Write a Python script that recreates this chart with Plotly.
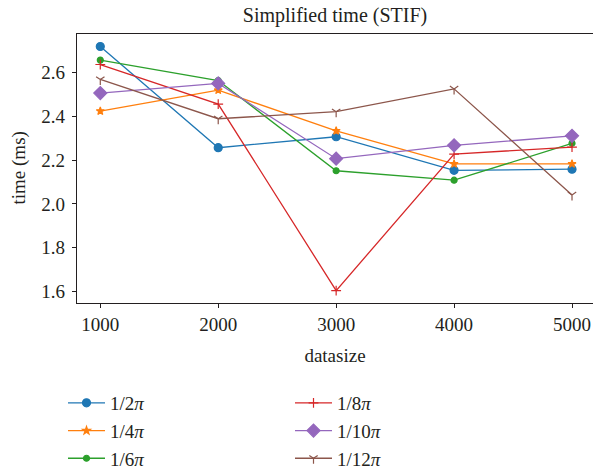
import plotly.graph_objects as go

datasize = [1000, 2000, 3000, 4000, 5000]

t_half = [2.717, 2.256, 2.306, 2.153, 2.158]
t_quarter = [2.423, 2.518, 2.333, 2.182, 2.182]
t_sixth = [2.655, 2.562, 2.151, 2.108, 2.276]
t_eighth = [2.635, 2.455, 1.605, 2.227, 2.259]
t_tenth = [2.505, 2.549, 2.206, 2.267, 2.310]
t_twelfth = [2.567, 2.388, 2.420, 2.524, 2.041]

series_names = ["1/2<i>π</i>", "1/4<i>π</i>", "1/6<i>π</i>", "1/8<i>π</i>", "1/10<i>π</i>", "1/12<i>π</i>"]
series_values = [t_half, t_quarter, t_sixth, t_eighth, t_tenth, t_twelfth]
colors = ["#1f77b4", "#ff7f0e", "#2ca02c", "#d62728", "#9467bd", "#8c564b"]
symbols = ["circle", "star", "circle", "cross-thin", "diamond", "y-down"]
sizes = [8, 6, 6, 7, 10, 7]
legends = ["legend", "legend", "legend", "legend2", "legend2", "legend2"]

FONT = "Liberation Serif"
INK = "#231f20"

fig = go.Figure()
for name, vals, c, sym, sz, lg in zip(series_names, series_values, colors, symbols, sizes, legends):
    fig.add_trace(go.Scatter(
        x=datasize, y=vals, name=name, mode="lines+markers",
        line=dict(color=c, width=1.3),
        marker=dict(symbol=sym, size=sz, color=c, line=dict(color=c, width=1.2)),
        legend=lg,
    ))

legend_common = dict(
    font=dict(family=FONT, size=19, color=INK),
    bgcolor="rgba(0,0,0,0)",
    xref="container", yref="container",
    xanchor="left", yanchor="top",
    orientation="v",
    itemwidth=37,
)

fig.update_layout(
    width=593, height=470,
    margin=dict(l=77, r=0, t=34, b=167, autoexpand=False),
    paper_bgcolor="white", plot_bgcolor="white",
    font=dict(family=FONT, size=19, color=INK),
    title=dict(text="Simplified time (STIF)", x=0.5, xref="paper", xanchor="center",
               y=1 - 15 / 470, yref="container", yanchor="middle",
               font=dict(family=FONT, size=20, color=INK)),
    showlegend=True,
    legend=dict(x=63 / 593, y=1 - 384 / 470, **legend_common),
    legend2=dict(x=290 / 593, y=1 - 384 / 470, **legend_common),
    xaxis=dict(
        range=[802.5, 5178], tickvals=datasize, ticktext=[str(d) for d in datasize],
        showgrid=False, zeroline=False, showline=True, linecolor=INK, linewidth=1.2,
        mirror=True, ticks="outside", ticklen=4, tickcolor=INK, tickangle=0,
        tickfont=dict(family=FONT, size=19, color=INK),
        title=dict(text="datasize", font=dict(family=FONT, size=19, color=INK), standoff=14),
    ),
    yaxis=dict(
        range=[1.5486, 2.774], tickvals=[1.6, 1.8, 2.0, 2.2, 2.4, 2.6],
        ticktext=["1.6", "1.8", "2.0", "2.2", "2.4", "2.6"],
        showgrid=False, zeroline=False, showline=True, linecolor=INK, linewidth=1.2,
        mirror=False, ticks="outside", ticklen=4, tickcolor=INK, ticklabelstandoff=3,
        tickfont=dict(family=FONT, size=19, color=INK),
    ),
    annotations=[dict(
        text="time (ms)", textangle=-90, showarrow=False,
        xref="paper", x=-(77 - 18) / 516, xanchor="center",
        yref="paper", y=0.5, yanchor="middle",
        font=dict(family=FONT, size=19, color=INK),
    )],
)

fig.write_html("out.html")
